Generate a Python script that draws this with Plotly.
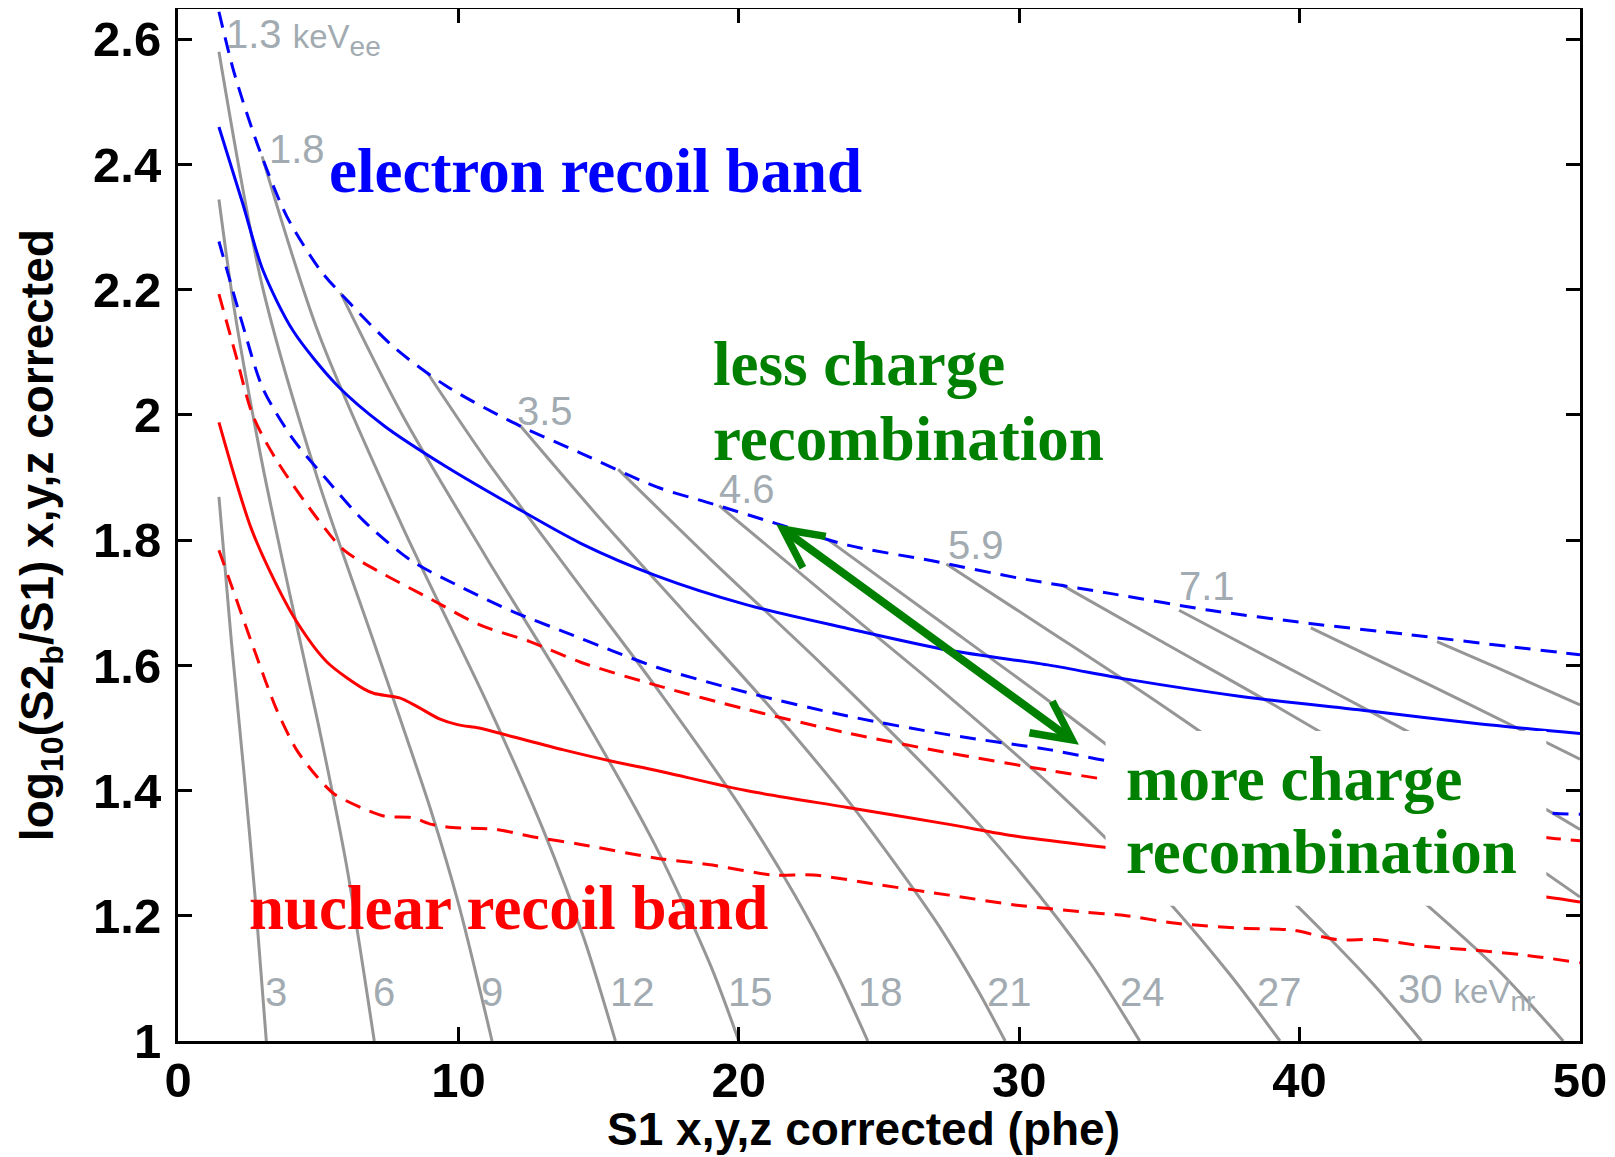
import plotly.graph_objects as go

# ---------------- data ----------------
# Electron-recoil band (blue): upper edge (dashed), median (solid), lower edge (dashed)
er_upper_x = [1.46, 2.0, 2.85, 3.87, 5.08, 6.16, 7.73, 9.54, 11.94, 14.36, 17.07, 19.06,
              21.23, 23.88, 26.89, 29.91, 33.23, 36.79, 40.36, 43.92, 47.49, 50.0]
er_upper_y = [2.644, 2.547, 2.43, 2.318, 2.231, 2.177, 2.107, 2.047, 1.988, 1.939, 1.885, 1.858,
              1.828, 1.792, 1.767, 1.740, 1.715, 1.688, 1.667, 1.649, 1.630, 1.617]

er_median_x = [1.46, 2.30, 3.03, 4.11, 5.68, 7.37, 9.54, 11.94, 14.36, 17.07, 20.26, 23.88,
               27.5, 31.11, 33.82, 37.98, 42.73, 46.3, 50.0]
er_median_y = [2.46, 2.339, 2.231, 2.134, 2.047, 1.982, 1.918, 1.855, 1.795, 1.743, 1.697, 1.659,
               1.624, 1.600, 1.578, 1.550, 1.526, 1.507, 1.491]

er_lower_x = [1.46, 2.30, 3.03, 4.11, 5.32, 6.64, 8.33, 10.14, 11.94, 13.75, 15.56, 17.07,
              20.26, 23.88, 27.5, 31.11, 33.34, 41.0, 48.9, 50.0]
er_lower_y = [2.277, 2.145, 2.042, 1.961, 1.896, 1.830, 1.767, 1.724, 1.686, 1.654, 1.622, 1.597,
              1.557, 1.519, 1.489, 1.465, 1.446, 1.400, 1.364, 1.362]

# Nuclear-recoil band (red)
nr_upper_x = [1.46, 2.06, 2.67, 3.51, 4.96, 5.92, 7.12, 8.93, 10.74, 12.55, 14.36, 17.07,
              20.26, 23.88, 27.5, 31.11, 33.34, 41.0, 49.0, 50.0]
nr_upper_y = [2.193, 2.096, 1.999, 1.928, 1.835, 1.784, 1.751, 1.708, 1.665, 1.638, 1.605, 1.568,
              1.530, 1.492, 1.460, 1.432, 1.416, 1.367, 1.324, 1.320]

nr_median_x = [1.46, 2.06, 2.6, 3.27, 4.23, 5.32, 6.64, 7.0, 7.9, 8.5, 9.3, 10.0, 10.74,
               11.94, 13.75, 15.56, 17.07, 20.26, 23.88, 27.5, 29.91, 33.34, 41.0, 48.8, 50.0]
nr_median_y = [1.988, 1.895, 1.820, 1.751, 1.670, 1.605, 1.562, 1.555, 1.548, 1.535, 1.515, 1.505, 1.500,
               1.486, 1.465, 1.446, 1.432, 1.400, 1.373, 1.346, 1.327, 1.308, 1.266, 1.230, 1.222]

nr_lower_x = [1.46, 2.06, 2.79, 3.51, 4.23, 4.96, 5.56, 6.52, 7.37, 8.33, 9.05, 9.78, 11.35,
              12.55, 14.36, 17.07, 19.06, 21.23, 22.67, 25.08, 27.5, 29.91, 32.32, 33.82, 35.6,
              37.98, 39.76, 41.31, 42.73, 44.52, 46.3, 48.08, 50.0]
nr_lower_y = [1.784, 1.708, 1.616, 1.530, 1.465, 1.422, 1.395, 1.373, 1.359, 1.357, 1.346, 1.341, 1.338,
              1.327, 1.314, 1.292, 1.281, 1.265, 1.265, 1.249, 1.233, 1.217, 1.206, 1.200, 1.188,
              1.180, 1.177, 1.162, 1.162, 1.151, 1.145, 1.137, 1.125]

# Grey lines of constant energy (one list per line)
gray_x = [
    [1.46, 1.9, 2.35, 2.75, 3.15],
    [1.46, 2.0, 3.0, 4.0, 5.0, 6.0, 7.0],
    [1.46, 3.0, 5.0, 7.0, 9.0, 10.0, 11.2],
    [3.0, 5.0, 8.0, 11.0, 13.0, 14.5, 15.6],
    [5.8, 8.0, 11.0, 14.0, 17.0, 19.0, 20.0],
    [8.9, 11.0, 14.0, 17.0, 20.0, 22.0, 23.5, 24.6],
    [12.2, 15.0, 18.0, 21.0, 24.0, 27.0, 28.5, 29.5],
    [15.7, 19.0, 23.0, 27.0, 30.0, 32.5, 34.3],
    [19.3, 23.0, 27.0, 31.0, 35.0, 37.5, 39.3],
    [23.2, 27.0, 31.0, 35.0, 39.0, 42.5, 44.35],
    [27.4, 31.0, 35.0, 39.0, 43.0, 47.0, 49.4],
    [31.5, 35.0, 39.0, 43.0, 47.0, 50.0],
    [35.7, 39.0, 43.0, 47.0, 50.0],
    [40.4, 43.0, 46.0, 50.0],
    [44.9, 47.0, 50.0],
]
gray_y = [
    [1.869, 1.64, 1.43, 1.23, 1.0],
    [2.344, 2.171, 1.923, 1.711, 1.507, 1.283, 1.0],
    [2.580, 2.207, 1.895, 1.635, 1.371, 1.220, 1.0],
    [2.413, 2.132, 1.822, 1.542, 1.340, 1.161, 1.0],
    [2.195, 2.000, 1.772, 1.553, 1.314, 1.120, 1.0],
    [2.067, 1.928, 1.747, 1.568, 1.378, 1.233, 1.107, 1.0],
    [1.983, 1.837, 1.688, 1.539, 1.378, 1.193, 1.083, 1.0],
    [1.913, 1.769, 1.600, 1.422, 1.272, 1.127, 1.0],
    [1.855, 1.717, 1.569, 1.413, 1.238, 1.107, 1.0],
    [1.800, 1.676, 1.545, 1.407, 1.255, 1.097, 1.0],
    [1.762, 1.657, 1.539, 1.413, 1.276, 1.117, 1.0],
    [1.729, 1.640, 1.539, 1.433, 1.322, 1.230],
    [1.688, 1.610, 1.515, 1.417, 1.338],
    [1.660, 1.604, 1.539, 1.450],
    [1.638, 1.597, 1.537],
]

# Energy labels
ee_labels = ["1.8", "3.5", "4.6", "5.9", "7.1"]
ee_label_x = [4.23, 13.1, 20.3, 28.45, 36.7]
ee_label_y = [2.424, 2.007, 1.881, 1.792, 1.727]
ee_first_label = "1.3 <span style='font-size:33px'>keV</span><sub>ee</sub>"
ee_first_xy = (1.65, 2.604)

nr_labels = ["3", "6", "9", "12", "15", "18", "21", "24", "27"]
nr_label_x = [3.5, 7.35, 11.2, 16.2, 20.4, 25.05, 29.65, 34.4, 39.3]
nr_label_y = 1.079
nr_last_label = "30 <span style='font-size:33px'>keV</span><sub>nr</sub>"
nr_last_xy = (43.45, 1.079)

x_ticks = [0, 10, 20, 30, 40, 50]
y_ticks = [1.0, 1.2, 1.4, 1.6, 1.8, 2.0, 2.2, 2.4, 2.6]
y_ticktext = ["1", "1.2", "1.4", "1.6", "1.8", "2", "2.2", "2.4", "2.6"]

# ---------------- figure ----------------
fig = go.Figure()

GRAY = "rgb(150,150,150)"
for gx, gy in zip(gray_x, gray_y):
    fig.add_trace(go.Scatter(x=gx, y=gy, mode="lines",
                             line=dict(color=GRAY, width=3, shape="spline", smoothing=0.8),
                             hoverinfo="skip", showlegend=False))

DASH = "16px,10px"
curves = [
    (er_upper_x, er_upper_y, "rgb(0,0,255)", DASH),
    (er_median_x, er_median_y, "rgb(0,0,255)", "solid"),
    (er_lower_x, er_lower_y, "rgb(0,0,255)", DASH),
    (nr_upper_x, nr_upper_y, "rgb(255,0,0)", DASH),
    (nr_median_x, nr_median_y, "rgb(255,0,0)", "solid"),
    (nr_lower_x, nr_lower_y, "rgb(255,0,0)", DASH),
]
for cx, cy, col, dash in curves:
    fig.add_trace(go.Scatter(x=cx, y=cy, mode="lines",
                             line=dict(color=col, width=3, dash=dash, shape="spline", smoothing=0.8),
                             hoverinfo="skip", showlegend=False))

annotations = []
LBL_FONT = dict(family="Liberation Sans", size=40, color="rgb(162,171,177)")
for t, lx, ly in zip(ee_labels, ee_label_x, ee_label_y):
    annotations.append(dict(x=lx, y=ly, xref="x", yref="y", text=t, showarrow=False,
                            xanchor="center", yanchor="middle", font=LBL_FONT))
annotations.append(dict(x=ee_first_xy[0], y=ee_first_xy[1], xref="x", yref="y", text=ee_first_label,
                        showarrow=False, xanchor="left", yanchor="middle", font=LBL_FONT))
for t, lx in zip(nr_labels, nr_label_x):
    annotations.append(dict(x=lx, y=nr_label_y, xref="x", yref="y", text=t, showarrow=False,
                            xanchor="center", yanchor="middle", font=LBL_FONT))
annotations.append(dict(x=nr_last_xy[0], y=nr_last_xy[1], xref="x", yref="y", text=nr_last_label,
                        showarrow=False, xanchor="left", yanchor="middle", font=LBL_FONT))

SERIF = "Liberation Serif"
def big_text(txt, x, y, color):
    return dict(x=x, y=y, xref="x", yref="y", text=txt, showarrow=False,
                xanchor="left", yanchor="middle",
                font=dict(family=SERIF, size=63, color=color, weight="bold"))

GREEN = "rgb(0,128,0)"
annotations += [
    big_text("electron recoil band", 5.3, 2.389, "rgb(0,0,255)"),
    big_text("nuclear recoil band", 2.45, 1.213, "rgb(255,0,0)"),
    big_text("less charge", 19.0, 2.082, GREEN),
    big_text("recombination", 19.0, 1.962, GREEN),
    big_text("more charge", 33.75, 1.419, GREEN),
    big_text("recombination", 33.75, 1.302, GREEN),
]

# double-headed arrow
annotations.append(dict(x=32.13, y=1.473, ax=21.28, ay=1.827, xref="x", yref="y", axref="x", ayref="y",
                        text="", showarrow=True, arrowhead=5, startarrowhead=5, arrowside="end+start",
                        arrowwidth=8, arrowsize=0.95, startarrowsize=0.95, arrowcolor=GREEN,
                        standoff=0, startstandoff=0))

AX_FONT = dict(family="Liberation Sans", size=46, color="black", weight="bold")
annotations.append(dict(x=0.489, y=-0.0853, xref="paper", yref="paper",
                        text="S1 x,y,z corrected (phe)", showarrow=False,
                        xanchor="center", yanchor="middle", font=AX_FONT))
annotations.append(dict(x=-0.098, y=0.4898, xref="paper", yref="paper", textangle=-90,
                        text="log<sub>10</sub>(S2<sub>b</sub>/S1) x,y,z corrected", showarrow=False,
                        xanchor="center", yanchor="middle", font=AX_FONT))

shapes = [dict(type="rect", xref="x", yref="y", x0=33.08, x1=48.8, y0=1.216, y1=1.495,
               fillcolor="white", line=dict(width=0), layer="above")]

TICK_FONT = dict(family="Liberation Sans", size=49, color="black", weight="bold")
axis_common = dict(showline=True, linewidth=3, linecolor="black", mirror="ticks",
                   ticks="inside", ticklen=14, tickwidth=2.5, tickcolor="black",
                   showgrid=False, zeroline=False, tickfont=TICK_FONT, automargin=False)

# The page body has a default 8px margin, so the figure is made 8px smaller
# and its margins reduced accordingly to keep the plot area where the reference has it.
fig.update_layout(
    template="none",
    width=1607, height=1149,
    margin=dict(l=170, r=35, t=1, b=116, autoexpand=False),
    paper_bgcolor="white", plot_bgcolor="white",
    xaxis=dict(range=[0, 50], tickvals=x_ticks, ticklabelstandoff=-6, **axis_common),
    yaxis=dict(range=[1.0, 2.6484], tickvals=y_ticks, ticktext=y_ticktext, ticklabelstandoff=4,
               **axis_common),
    annotations=annotations,
    shapes=shapes,
    showlegend=False,
)

fig.write_html("out.html")
